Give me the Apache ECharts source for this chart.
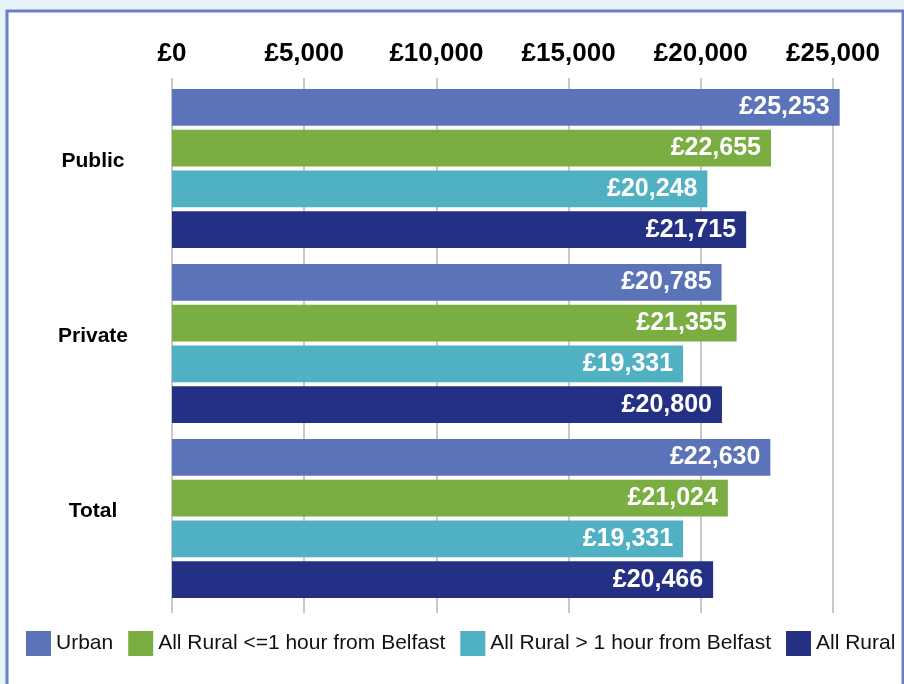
<!DOCTYPE html>
<html>
<head>
<meta charset="utf-8">
<script src="https://cdn.jsdelivr.net/npm/echarts@6/dist/echarts.min.js"></script>
<style>
  html, body { margin: 0; padding: 0; }
  #chart { width: 904px; height: 684px; }
</style>
</head>
<body>
<div id="chart"></div>
<script>
// 数据
var sectors = ['Public', 'Private', 'Total'];
var seriesNames = ['Urban', 'All Rural <=1 hour from Belfast', 'All Rural > 1 hour from Belfast', 'All Rural'];
var urban = [25253, 20785, 22630];
var ruralNear = [22655, 21355, 21024];
var ruralFar = [20248, 19331, 19331];
var ruralAll = [21715, 20800, 20466];
var colors = ['#5b73b8', '#7aad42', '#50b1c2', '#233084'];

var font = "'Liberation Sans', Arial, Helvetica, sans-serif";

function money(v) {
    return '£' + Number(v).toLocaleString('en-GB');
}

var dom = document.getElementById('chart');
var myChart = echarts.init(dom);

function makeSeries(name, data, color) {
    return {
        name: name,
        type: 'bar',
        data: data,
        clip: false,
        barCategoryGap: '9.1%',
        barGap: '10.8%',
        itemStyle: { color: color },
        label: {
            show: true,
            position: 'insideRight',
            distance: 10,
            color: '#fff',
            fontSize: 25,
            fontWeight: 'bold',
            fontFamily: font,
            formatter: function (p) { return money(p.value); }
        }
    };
}

var option = {
    backgroundColor: '#e6f3f9',
    animation: false,
    color: colors,
    graphic: [{
        type: 'rect',
        z: -10,
        shape: { x: 7, y: 11, width: 896, height: 690 },
        style: { fill: '#ffffff', stroke: '#6a7fc5', lineWidth: 3 }
    }],
    grid: {
        left: 172,
        right: 904 - 833,
        top: 81,
        bottom: 684 - 606
    },
    legend: {
        left: 26,
        top: 631,
        padding: 0,
        itemWidth: 25,
        itemHeight: 25,
        itemGap: 15,
        icon: 'rect',
        data: seriesNames,
        textStyle: { color: '#111', fontSize: 21, fontFamily: font }
    },
    xAxis: [{
        type: 'value',
        position: 'top',
        min: 0,
        max: 25000,
        interval: 5000,
        axisLine: { show: false },
        axisTick: { show: true, length: 3, lineStyle: { color: '#c8c8c8', width: 2 } },
        axisLabel: {
            color: '#000',
            fontSize: 26,
            fontWeight: 'bold',
            fontFamily: font,
            margin: 14,
            formatter: function (v) { return money(v); }
        },
        splitLine: { show: true, lineStyle: { color: '#c8c8c8', width: 2 } }
    }, {
        type: 'value',
        position: 'bottom',
        min: 0,
        max: 25000,
        interval: 5000,
        axisLine: { show: false },
        axisTick: { show: true, length: 7, lineStyle: { color: '#c8c8c8', width: 2 } },
        axisLabel: { show: false },
        splitLine: { show: false }
    }],
    yAxis: {
        type: 'category',
        data: sectors,
        inverse: true,
        axisLine: { show: false },
        axisTick: { show: false },
        axisLabel: {
            color: '#000',
            fontSize: 21,
            fontWeight: 'bold',
            fontFamily: font,
            align: 'center',
            verticalAlign: 'bottom',
            lineHeight: 15,
            margin: 79
        }
    },
    series: [
        makeSeries(seriesNames[0], urban, colors[0]),
        makeSeries(seriesNames[1], ruralNear, colors[1]),
        makeSeries(seriesNames[2], ruralFar, colors[2]),
        makeSeries(seriesNames[3], ruralAll, colors[3])
    ]
};

myChart.setOption(option);
</script>
</body>
</html>
